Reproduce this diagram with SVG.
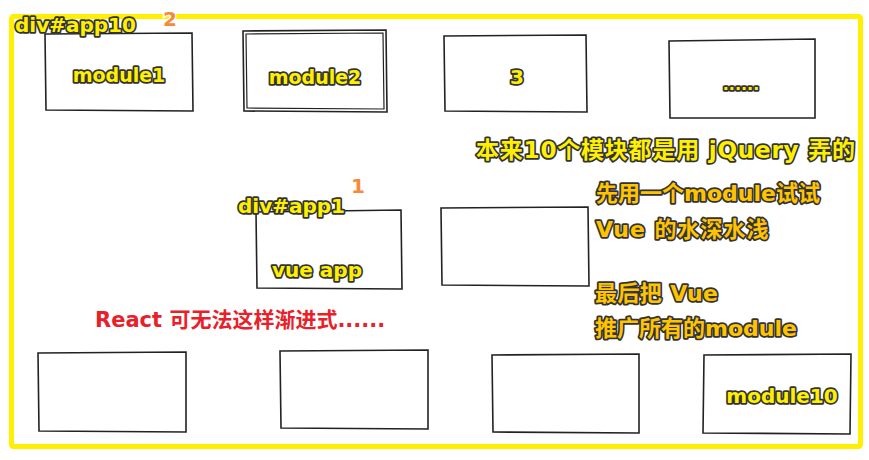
<svg xmlns="http://www.w3.org/2000/svg" width="869" height="460" viewBox="0 0 869 460">
<style>
.box{fill:#fff;stroke:#222;stroke-width:1.6}
.y{font-family:"DejaVu Sans","Noto Sans CJK SC",sans-serif;font-weight:bold;fill:#fff000;stroke:#333;stroke-width:3.5;paint-order:stroke;stroke-linejoin:round}
.o{font-family:"DejaVu Sans","Noto Sans CJK SC",sans-serif;font-weight:bold;fill:#ffc400;stroke:#333;stroke-width:3.5;paint-order:stroke;stroke-linejoin:round}
.n{font-family:"DejaVu Sans",sans-serif;font-weight:bold;fill:#f58a3c;stroke:#fff;stroke-width:3;paint-order:stroke}
.r{font-family:"DejaVu Sans","Noto Sans CJK SC",sans-serif;font-weight:bold;fill:#e8202a;stroke:#fff;stroke-width:3;paint-order:stroke;stroke-linejoin:round}
</style>
<rect x="11.5" y="16.5" width="849" height="430" rx="2" fill="none" stroke="#fff000" stroke-width="5"/>
<g id="module1"><path class="box" d="M45 34 L192 33 L193 111 L46 110 Z"/><text class="y" x="119" y="82" font-size="19" text-anchor="middle">module1</text></g>
<g id="module2"><path class="box" d="M243 31 L386 30 L387 112 L244 111 Z"/><path fill="none" stroke="#222" stroke-width="1.2" d="M246 34 L383 33 L384 109 L247 108 Z"/><text class="y" x="315" y="84" font-size="19" text-anchor="middle">module2</text></g>
<g id="module3"><path class="box" d="M444 36 L586 35 L587 112 L445 111 Z"/><text class="y" x="517" y="84" font-size="20" text-anchor="middle">3</text></g>
<g id="module4"><path class="box" d="M669 41 L815 39 L815 118 L670 118 Z"/><text class="y" x="741" y="90" font-size="16" text-anchor="middle">......</text></g>
<g id="app10label"><text class="y" x="15" y="32" font-size="20">div#app10</text><text class="n" x="170" y="26" font-size="20" text-anchor="middle">2</text></g>
<g id="note1"><text class="y" x="476" y="158" font-size="23" letter-spacing="0.8">本来10个模块都是用 jQuery 弄的</text></g>
<g id="app1"><path class="box" d="M256 212 L401 210 L402 289 L257 288 Z"/><text class="y" x="317" y="277" font-size="20" text-anchor="middle">vue app</text><text class="y" x="238" y="213" font-size="20">div#app1</text><text class="n" x="358" y="193" font-size="20" text-anchor="middle">1</text></g>
<g id="module6"><path class="box" d="M441 208 L588 207 L589 286 L442 285 Z"/></g>
<g id="note2"><text class="o" x="596" y="201" font-size="22">先用一个module试试</text><text class="o" x="596" y="237" font-size="22" letter-spacing="1">Vue 的水深水浅</text></g>
<g id="note3"><text class="o" x="595" y="301" font-size="22" letter-spacing="0.4">最后把 Vue</text><text class="o" x="595" y="336" font-size="22">推广所有的module</text></g>
<g id="react"><text class="r" x="95" y="327" font-size="21">React 可无法这样渐进式......</text></g>
<g id="module7"><path class="box" d="M38 353 L186 352 L186 432 L39 431 Z"/></g>
<g id="module8"><path class="box" d="M280 351 L428 350 L428 429 L281 428 Z"/></g>
<g id="module9"><path class="box" d="M492 355 L639 354 L639 433 L493 432 Z"/></g>
<g id="module10"><path class="box" d="M704 355 L851 354 L850 434 L703 433 Z"/><text class="y" x="782" y="403" font-size="20" text-anchor="middle">module10</text></g>
<g id="connectors"></g>
</svg>
